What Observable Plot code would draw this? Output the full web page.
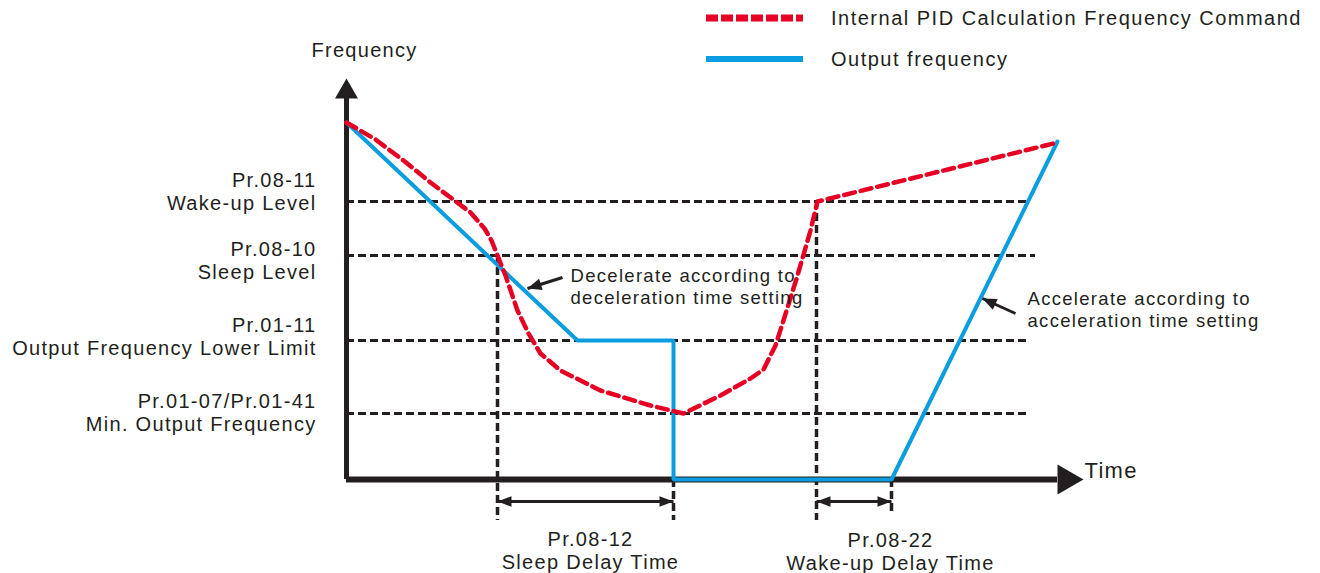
<!DOCTYPE html>
<html>
<head>
<meta charset="utf-8">
<script src="https://cdn.jsdelivr.net/npm/d3@7"></script>
<script src="https://cdn.jsdelivr.net/npm/@observablehq/plot@0.6"></script>
<style>
  body { margin: 0; background: #fff; }
  #wrap { position: relative; width: 1320px; height: 573px; font-family: "Liberation Sans", Arial, sans-serif; color: #231f20; }
  #legend { position: absolute; left: 0; top: 0; }
  .leg { position: absolute; left: 706px; display: flex; align-items: center; font-size: 20px; letter-spacing: 1.5px; white-space: nowrap; }
  .leg svg { margin-right: 28px; }
  #chart svg { display: block; }
</style>
</head>
<body>
<div id="wrap">
  <div id="chart"></div>
  <div id="legend"></div>
</div>
<script>
// ---------- data (time units t, frequency units f) ----------
const seriesNames = ["Internal PID Calculation Frequency Command", "Output frequency"];

// frequency levels: wake-up, sleep, lower limit, min output
const levelF = [69.5, 56, 34.75, 16.5];
const levelEndT = [68.1, 68.9, 68.1, 68.1];
const levelLabels = [
  "Pr.08-11\nWake-up Level",
  "Pr.08-10\nSleep Level",
  "Pr.01-11\nOutput Frequency Lower Limit",
  "Pr.01-07/Pr.01-41\nMin. Output Frequency"
];
const levelLabelF = [72.1, 54.75, 35.9, 16.9];

// Output frequency (blue)
const outputT = [0, 23.1, 32.7, 32.7, 54.5, 71.1];
const outputF = [89.25, 34.75, 34.75, 0, 0, 84.5];

// Internal PID calculation frequency command (red dashed)
const pidT = [0, 2.9, 5.7, 8.4, 10.4, 12.4, 13.8, 14.5, 15.1, 15.9, 17.1, 18.2, 19.4, 21.4, 25.4, 30.4, 33.7, 37.4, 40.4, 41.7, 42.9, 43.7, 45.1, 46.4, 47.1, 71.1];
const pidF = [89.25, 85, 79.75, 74.25, 70.5, 66.75, 62.75, 59.75, 56, 51, 42.25, 36.5, 31.5, 27.25, 22.25, 18.5, 16.5, 21, 25.25, 27.5, 33.5, 39.75, 51, 62.25, 69.5, 84.25];

// vertical guide lines
const guideT = [15.1, 32.7, 47.0, 54.5];
const guideTop = [56, 0, 69.5, 0];
const guideBottom = [-10.25, -10.25, -10.25, -9];

// delay time spans
const delayStart = [15.1, 47.0];
const delayEnd = [32.7, 54.5];
const delayF = [-5.5, -5.5];
const delayLabels = ["Pr.08-12\nSleep Delay Time", "Pr.08-22\nWake-up Delay Time"];
const delayLabelT = [24.4, 54.4];
const delayLabelF = [-17.6, -18.0];

// annotations
const noteText = ["Decelerate according to\ndeceleration time setting", "Accelerate according to\nacceleration time setting"];
const noteT = [22.4, 68.1];
const noteF = [48.5, 42.75];
const noteFromT = [21.6, 66.9];
const noteFromF = [50.5, 41.5];
const noteToT = [18.1, 63.6];
const noteToF = [47.75, 45.25];

// axes
const axisTitles = ["Frequency", "Time"];
const yAxisTopF = 95.5, yAxisTipF = 100.25;
const xAxisEndT = 71.1, xAxisTipT = 73.7;
const axisTitleT = [1.8, 73.8];
const axisTitleF = [107.25, 2.25];

// ---------- build ----------
const W = 1320, H = 573;
const xDomain = [-34.6, 97.4], yDomain = [-23.5, 119.75];
const pxPerT = W / (xDomain[1] - xDomain[0]);
const pxPerF = H / (yDomain[1] - yDomain[0]);

const INK = "#231f20", BLUE = "#0a9de0", RED = "#e60023";

// filled arrow-head symbol: tip at origin, pointing along screen angle (deg)
function head(ratio, angleDeg) {
  const a = angleDeg * Math.PI / 180, dx = Math.cos(a), dy = Math.sin(a);
  return {
    draw(ctx, size) {
      const L = Math.sqrt(size / Math.PI), w = ratio * L / 2;
      const bx = -L * dx, by = -L * dy;
      ctx.moveTo(0, 0);
      ctx.lineTo(bx - dy * w, by + dx * w);
      ctx.lineTo(bx + dy * w, by - dx * w);
      ctx.closePath();
    }
  };
}
const screenAngle = (t1, f1, t2, f2) => Math.atan2(-(f2 - f1) * pxPerF, (t2 - t1) * pxPerT) * 180 / Math.PI;

const pid = pidT.map((t, i) => ({t, f: pidF[i]}));
const out = outputT.map((t, i) => ({t, f: outputF[i]}));
const levels = levelF.map((f, i) => ({f, end: levelEndT[i], label: levelLabels[i], lf: levelLabelF[i]}));
const guides = guideT.map((t, i) => ({t, top: guideTop[i], bottom: guideBottom[i]}));
const delays = delayStart.map((s, i) => ({s, e: delayEnd[i], f: delayF[i], label: delayLabels[i], lt: delayLabelT[i], lf: delayLabelF[i]}));
const notes = noteText.map((text, i) => ({text, t: noteT[i], f: noteF[i], t1: noteFromT[i], f1: noteFromF[i], t2: noteToT[i], f2: noteToF[i]}));
const titles = axisTitles.map((text, i) => ({text, t: axisTitleT[i], f: axisTitleF[i]}));

const marks = [
  // horizontal level guides
  Plot.ruleY(levels, {y: "f", x1: 0, x2: "end", stroke: INK, strokeWidth: 3, strokeDasharray: "8,4"}),
  // vertical guides
  Plot.ruleX(guides, {x: "t", y1: "top", y2: "bottom", stroke: INK, strokeWidth: 3.5, strokeDasharray: "8,4"}),
  // axes
  Plot.ruleX([0], {y1: 0, y2: yAxisTopF, stroke: INK, strokeWidth: 5}),
  Plot.ruleY([0], {x1: 0, x2: xAxisEndT, stroke: INK, strokeWidth: 6}),
  Plot.dot([{t: 0, f: yAxisTipF}], {x: "t", y: "f", r: 20, symbol: head(1.15, -90), fill: INK, stroke: null}),
  Plot.dot([{t: xAxisTipT, f: 0}], {x: "t", y: "f", r: 26, symbol: head(1.15, 0), fill: INK, stroke: null}),
  // delay arrows
  Plot.link(delays, {x1: "s", x2: "e", y1: "f", y2: "f", stroke: INK, strokeWidth: 3}),
  Plot.dot(delays, {x: "s", y: "f", r: 14, symbol: head(0.75, 180), fill: INK, stroke: null}),
  Plot.dot(delays, {x: "e", y: "f", r: 14, symbol: head(0.75, 0), fill: INK, stroke: null}),
  // series
  Plot.line(out, {x: "t", y: "f", stroke: BLUE, strokeWidth: 4, strokeLinejoin: "miter"}),
  Plot.line(pid, {x: "t", y: "f", stroke: RED, strokeWidth: 4.5, strokeDasharray: "11,6"}),
  // annotation arrows
  Plot.link(notes, {x1: "t1", y1: "f1", x2: "t2", y2: "f2", stroke: INK, strokeWidth: 3}),
  ...notes.map(n => Plot.dot([n], {x: "t2", y: "f2", r: 14, symbol: head(0.85, screenAngle(n.t1, n.f1, n.t2, n.f2)), fill: INK, stroke: null})),
  // texts
  Plot.text(levels, {x: -3.0, y: "lf", text: "label", textAnchor: "end", fontSize: 20, lineHeight: 1.15, fill: INK, style: {letterSpacing: "1.5px"}}),
  Plot.text(delays, {x: "lt", y: "lf", text: "label", textAnchor: "middle", fontSize: 20, lineHeight: 1.15, fill: INK}),
  Plot.text(notes, {x: "t", y: "f", text: "text", textAnchor: "start", fontSize: 18.5, lineHeight: 1.2, fill: INK, style: {letterSpacing: "1px"}}),
  Plot.text(titles.slice(0, 1), {x: "t", y: "f", text: "text", textAnchor: "middle", fontSize: 20, fill: INK}),
  Plot.text(titles.slice(1), {x: "t", y: "f", text: "text", textAnchor: "start", fontSize: 22, fill: INK})
];

const chart = Plot.plot({
  width: W, height: H,
  marginLeft: 0, marginRight: 0, marginTop: 0, marginBottom: 0,
  x: {domain: xDomain, axis: null},
  y: {domain: yDomain, axis: null},
  style: {fontFamily: '"Liberation Sans", Arial, sans-serif', background: "#fff", letterSpacing: "1.3px", overflow: "visible"},
  marks
});
document.getElementById("chart").appendChild(chart);

// legend (HTML, overlaid at top right)
const legendSpecs = [
  {name: seriesNames[0], color: RED, dash: "12,3", width: 7, top: 6},
  {name: seriesNames[1], color: BLUE, dash: null, width: 6, top: 47}
];
const legend = d3.select("#legend");
legendSpecs.forEach(s => {
  const row = legend.append("div").attr("class", "leg").style("top", s.top + "px");
  const svg = row.append("svg").attr("width", 97).attr("height", 24);
  svg.append("line").attr("x1", 0).attr("x2", 97).attr("y1", 12).attr("y2", 12)
    .attr("stroke", s.color).attr("stroke-width", s.width)
    .attr("stroke-dasharray", s.dash);
  row.append("span").text(s.name);
});
</script>
</body>
</html>
